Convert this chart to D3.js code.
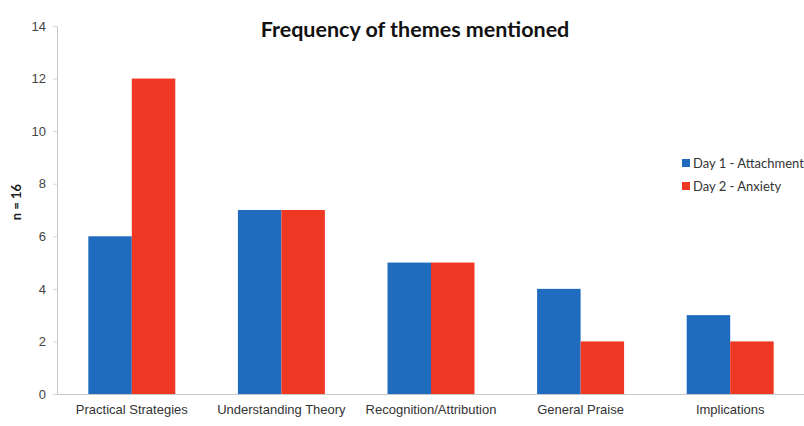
<!DOCTYPE html>
<html>
<head>
<meta charset="utf-8">
<script src="https://cdn.jsdelivr.net/npm/d3@7"></script>
<style>
  body { margin: 0; background: #fff; }
  svg { font-family: Lato, "Open Sans", sans-serif; }
</style>
</head>
<body>
<svg width="804" height="426"></svg>
<script>
// Chart data
const categories = ["Practical Strategies", "Understanding Theory", "Recognition/Attribution", "General Praise", "Implications"];
const seriesNames = ["Day 1 - Attachment", "Day 2 - Anxiety"];
const day1 = [6, 7, 5, 4, 3];
const day2 = [12, 7, 5, 2, 2];
const yTicks = [0, 2, 4, 6, 8, 10, 12, 14];

const colors = ["#1f6bbd", "#ef3824"];

const svg = d3.select("svg");
const margin = { left: 57 };

// Scales
const x = d3.scaleBand()
    .domain(categories)
    .range([margin.left, margin.left + 748])
    .paddingInner(0)
    .paddingOuter(0);

const x1 = d3.scaleBand()
    .domain(seriesNames)
    .range([0, x.bandwidth()])
    .paddingInner(0)
    .paddingOuter(0.72);

const y = d3.scaleLinear()
    .domain([0, 14])
    .range([394, 26]);

// Y axis
const yAxis = svg.append("g")
    .attr("transform", `translate(${margin.left},0)`)
    .call(d3.axisLeft(y).tickValues(yTicks).tickSize(4).tickPadding(7));
yAxis.select(".domain").attr("stroke", "#c8c8c8");
yAxis.selectAll(".tick line").attr("stroke", "#d8d8d8");
yAxis.selectAll(".tick text").attr("fill", "#444").style("font-size", "13px");

// Bars
const rows = categories.map((c, i) => ({ cat: c, values: [day1[i], day2[i]] }));
const groups = svg.append("g").selectAll("g")
    .data(rows)
    .join("g")
    .attr("transform", d => `translate(${x(d.cat)},0)`);

groups.selectAll("rect")
    .data(d => d.values.map((v, j) => ({ name: seriesNames[j], value: v, j: j })))
    .join("rect")
    .attr("x", d => x1(d.name))
    .attr("y", d => y(d.value))
    .attr("width", x1.bandwidth())
    .attr("height", d => y(0) - y(d.value))
    .attr("fill", d => colors[d.j]);

// X axis
const xAxis = svg.append("g")
    .attr("transform", `translate(0,${y(0)})`)
    .call(d3.axisBottom(x).tickSize(0).tickPadding(11));
xAxis.select(".domain").attr("stroke", "#c8c8c8");
xAxis.selectAll(".tick text").attr("fill", "#333").style("font-size", "13px");

// Title
svg.append("text")
    .attr("x", 415)
    .attr("y", 37)
    .attr("text-anchor", "middle")
    .style("font-size", "21.5px")
    .style("font-weight", "bold")
    .attr("fill", "#111")
    .text("Frequency of themes mentioned");

// Y label
svg.append("text")
    .attr("transform", "translate(21,202) rotate(-90)")
    .attr("text-anchor", "middle")
    .style("font-size", "13px")
    .style("font-weight", "bold")
    .attr("fill", "#222")
    .text("n = 16");

// Legend
const legend = svg.selectAll(".legend")
    .data(seriesNames)
    .join("g")
    .attr("class", "legend")
    .attr("transform", (d, i) => `translate(682,${159 + i * 23})`);

legend.append("rect")
    .attr("width", 8)
    .attr("height", 8)
    .attr("fill", (d, i) => colors[i]);

legend.append("text")
    .attr("x", 11)
    .attr("y", 4)
    .attr("dy", ".35em")
    .style("font-size", "13px")
    .attr("fill", "#333")
    .text(d => d);
</script>
</body>
</html>
